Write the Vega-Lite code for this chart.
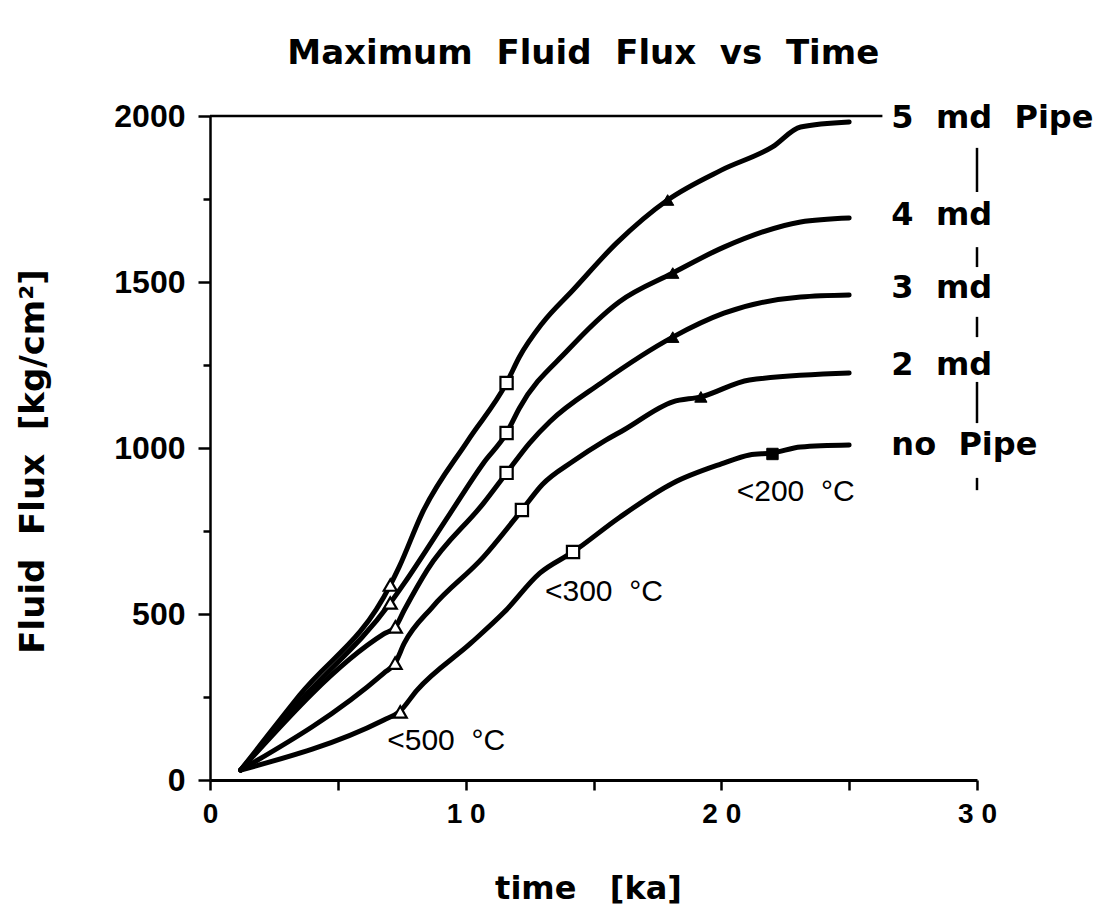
{
  "$schema": "https://vega.github.io/schema/vega-lite/v6.json",
  "width": 767,
  "height": 664,
  "autosize": {"type": "none"},
  "padding": {"left": 210, "top": 116, "right": 138, "bottom": 142},
  "background": "white",
  "config": {"view": {"stroke": null}},
  "datasets": {
    "curves": [
      {"series": "no Pipe", "t": 1.2, "flux": 30},
      {"series": "no Pipe", "t": 6.8, "flux": 181},
      {"series": "no Pipe", "t": 7.4, "flux": 205},
      {"series": "no Pipe", "t": 8.1, "flux": 271},
      {"series": "no Pipe", "t": 10.2, "flux": 412},
      {"series": "no Pipe", "t": 11.5, "flux": 505},
      {"series": "no Pipe", "t": 12.9, "flux": 623},
      {"series": "no Pipe", "t": 14.2, "flux": 687},
      {"series": "no Pipe", "t": 16.0, "flux": 790},
      {"series": "no Pipe", "t": 18.1, "flux": 894},
      {"series": "no Pipe", "t": 20.0, "flux": 952},
      {"series": "no Pipe", "t": 21.1, "flux": 979},
      {"series": "no Pipe", "t": 22.0, "flux": 985},
      {"series": "no Pipe", "t": 23.1, "flux": 1003},
      {"series": "no Pipe", "t": 25.0, "flux": 1009},
      {"series": "2 md", "t": 1.2, "flux": 30},
      {"series": "2 md", "t": 6.8, "flux": 322},
      {"series": "2 md", "t": 7.24, "flux": 352},
      {"series": "2 md", "t": 7.6, "flux": 412},
      {"series": "2 md", "t": 8.7, "flux": 521},
      {"series": "2 md", "t": 10.7, "flux": 672},
      {"series": "2 md", "t": 12.2, "flux": 813},
      {"series": "2 md", "t": 13.0, "flux": 890},
      {"series": "2 md", "t": 14.2, "flux": 960},
      {"series": "2 md", "t": 15.4, "flux": 1020},
      {"series": "2 md", "t": 16.2, "flux": 1055},
      {"series": "2 md", "t": 18.1, "flux": 1139},
      {"series": "2 md", "t": 19.2, "flux": 1154},
      {"series": "2 md", "t": 21.1, "flux": 1205},
      {"series": "2 md", "t": 25.0, "flux": 1226},
      {"series": "3 md", "t": 1.2, "flux": 30},
      {"series": "3 md", "t": 6.8, "flux": 440},
      {"series": "3 md", "t": 7.25, "flux": 461},
      {"series": "3 md", "t": 7.6, "flux": 512},
      {"series": "3 md", "t": 8.5, "flux": 633},
      {"series": "3 md", "t": 10.7, "flux": 834},
      {"series": "3 md", "t": 11.6, "flux": 925},
      {"series": "3 md", "t": 12.5, "flux": 1015},
      {"series": "3 md", "t": 13.3, "flux": 1080},
      {"series": "3 md", "t": 15.3, "flux": 1196},
      {"series": "3 md", "t": 18.1, "flux": 1334},
      {"series": "3 md", "t": 20.1, "flux": 1406},
      {"series": "3 md", "t": 23.1, "flux": 1455},
      {"series": "3 md", "t": 25.0, "flux": 1461},
      {"series": "4 md", "t": 1.2, "flux": 30},
      {"series": "4 md", "t": 3.5, "flux": 235},
      {"series": "4 md", "t": 7.05, "flux": 533},
      {"series": "4 md", "t": 7.6, "flux": 593},
      {"series": "4 md", "t": 9.4, "flux": 804},
      {"series": "4 md", "t": 10.7, "flux": 955},
      {"series": "4 md", "t": 11.6, "flux": 1045},
      {"series": "4 md", "t": 12.1, "flux": 1120},
      {"series": "4 md", "t": 14.0, "flux": 1295},
      {"series": "4 md", "t": 16.0, "flux": 1440},
      {"series": "4 md", "t": 18.1, "flux": 1527},
      {"series": "4 md", "t": 20.1, "flux": 1605},
      {"series": "4 md", "t": 23.1, "flux": 1681},
      {"series": "4 md", "t": 25.0, "flux": 1693},
      {"series": "5 md", "t": 1.2, "flux": 30},
      {"series": "5 md", "t": 3.5, "flux": 255},
      {"series": "5 md", "t": 7.05, "flux": 587},
      {"series": "5 md", "t": 7.4, "flux": 642},
      {"series": "5 md", "t": 8.3, "flux": 804},
      {"series": "5 md", "t": 10.1, "flux": 1024},
      {"series": "5 md", "t": 11.6, "flux": 1196},
      {"series": "5 md", "t": 12.1, "flux": 1274},
      {"series": "5 md", "t": 13.0, "flux": 1376},
      {"series": "5 md", "t": 14.2, "flux": 1476},
      {"series": "5 md", "t": 15.9, "flux": 1617},
      {"series": "5 md", "t": 17.9, "flux": 1747},
      {"series": "5 md", "t": 20.0, "flux": 1837},
      {"series": "5 md", "t": 22.0, "flux": 1907},
      {"series": "5 md", "t": 23.1, "flux": 1967},
      {"series": "5 md", "t": 25.0, "flux": 1982}
    ],
    "markers": [
      {"kind": "open-tri", "t": 7.05, "flux": 587},
      {"kind": "open-tri", "t": 7.05, "flux": 533},
      {"kind": "open-tri", "t": 7.25, "flux": 461},
      {"kind": "open-tri", "t": 7.24, "flux": 352},
      {"kind": "open-tri", "t": 7.44, "flux": 205},
      {"kind": "open-sq", "t": 11.6, "flux": 1196},
      {"kind": "open-sq", "t": 11.6, "flux": 1045},
      {"kind": "open-sq", "t": 11.6, "flux": 925},
      {"kind": "open-sq", "t": 12.2, "flux": 813},
      {"kind": "open-sq", "t": 14.2, "flux": 687},
      {"kind": "filled-tri", "t": 17.9, "flux": 1747},
      {"kind": "filled-tri", "t": 18.1, "flux": 1527},
      {"kind": "filled-tri", "t": 18.1, "flux": 1334},
      {"kind": "filled-tri", "t": 19.2, "flux": 1154},
      {"kind": "filled-sq", "t": 22.0, "flux": 982}
    ],
    "temps": [
      {"label": "<500\u00a0 °C", "t": 6.93, "flux": 117},
      {"label": "<300\u00a0 °C", "t": 13.1, "flux": 566},
      {"label": "<200\u00a0 °C", "t": 20.6, "flux": 867}
    ],
    "names": [
      {"label": "5\u00a0 md\u00a0 Pipe", "t": 26.65, "flux": 1994},
      {"label": "4\u00a0 md", "t": 26.65, "flux": 1702},
      {"label": "3\u00a0 md", "t": 26.65, "flux": 1482},
      {"label": "2\u00a0 md", "t": 26.65, "flux": 1250},
      {"label": "no\u00a0 Pipe", "t": 26.65, "flux": 1009}
    ],
    "bars": [
      {"t": 30, "flux": 1904, "flux2": 1771},
      {"t": 30, "flux": 1605, "flux2": 1545},
      {"t": 30, "flux": 1395, "flux2": 1334},
      {"t": 30, "flux": 1199, "flux2": 1075},
      {"t": 30, "flux": 910, "flux2": 873}
    ],
    "frame": [{"t": 0, "t1": 26.3, "flux": 2000}],
    "heading": [{"label": "Maximum\u00a0 Fluid\u00a0 Flux\u00a0 vs\u00a0 Time", "t": 14.6, "flux": 2000}]
  },
  "encoding": {
    "x": {
      "field": "t", "type": "quantitative",
      "scale": {"domain": [0, 30], "nice": false, "zero": false},
      "axis": {
        "values": [0, 5, 10, 15, 20, 25, 30],
        "labelExpr": "datum.value == 0 ? '0' : datum.value == 10 ? '1 0' : datum.value == 20 ? '2 0' : datum.value == 30 ? '3 0' : ''",
        "grid": false, "domainColor": "black", "domainWidth": 3, "tickColor": "black", "tickWidth": 2.5, "tickSize": 10,
        "labelFont": "Liberation Sans", "labelFontWeight": "bold", "labelFontSize": 28, "labelColor": "black", "labelPadding": 10,
        "labelOverlap": false, "labelFlush": false,
        "title": "time\u00a0\u00a0 [ka]", "titleFont": "DejaVu Sans", "titleFontWeight": "bold", "titleFontSize": 32, "titleColor": "black",
        "titleX": 378, "titleY": 118, "titleBaseline": "alphabetic", "titleAlign": "center"
      }
    },
    "y": {
      "field": "flux", "type": "quantitative",
      "scale": {"domain": [0, 2000], "nice": false},
      "axis": {
        "values": [0, 250, 500, 750, 1000, 1250, 1500, 1750, 2000],
        "labelExpr": "datum.value % 500 == 0 ? format(datum.value, 'd') : ''",
        "grid": false, "domainColor": "black", "domainWidth": 2.5, "tickColor": "black", "tickWidth": 2.5,
        "tickSize": {"condition": {"test": "datum.value % 500 === 0", "value": 12}, "value": 7},
        "labelFont": "Liberation Sans", "labelFontWeight": "bold", "labelFontSize": 32, "labelColor": "black", "labelPadding": 13,
        "labelOverlap": false, "labelFlush": false,
        "title": "Fluid\u00a0 Flux\u00a0 [kg/cm²]", "titleFont": "DejaVu Sans", "titleFontWeight": "bold", "titleFontSize": 34, "titleColor": "black",
        "titleX": -167, "titleY": 345, "titleAngle": -90, "titleBaseline": "alphabetic", "titleAlign": "center"
      }
    }
  },
  "layer": [
    {
      "data": {"name": "curves"},
      "mark": {"type": "line", "interpolate": "monotone", "color": "black", "strokeWidth": 5, "strokeCap": "round", "strokeJoin": "round"},
      "encoding": {"detail": {"field": "series"}}
    },
    {
      "data": {"name": "frame"},
      "mark": {"type": "rule", "color": "black", "strokeWidth": 2.5},
      "encoding": {"x2": {"field": "t1"}}
    },
    {
      "data": {"name": "bars"},
      "mark": {"type": "rule", "color": "black", "strokeWidth": 2.5},
      "encoding": {"y2": {"field": "flux2"}}
    },
    {
      "data": {"name": "markers"},
      "transform": [{"filter": "datum.kind == 'open-tri'"}],
      "mark": {"type": "point", "shape": "triangle-up", "filled": true, "fill": "white", "stroke": "black", "strokeWidth": 2.2, "size": 170, "opacity": 1},
      "encoding": {}
    },
    {
      "data": {"name": "markers"},
      "transform": [{"filter": "datum.kind == 'open-sq'"}],
      "mark": {"type": "point", "shape": "square", "filled": true, "fill": "white", "stroke": "black", "strokeWidth": 2.2, "size": 150, "opacity": 1},
      "encoding": {}
    },
    {
      "data": {"name": "markers"},
      "transform": [{"filter": "datum.kind == 'filled-tri'"}],
      "mark": {"type": "point", "shape": "triangle-up", "filled": true, "fill": "black", "stroke": "black", "strokeWidth": 1, "size": 150, "opacity": 1},
      "encoding": {}
    },
    {
      "data": {"name": "markers"},
      "transform": [{"filter": "datum.kind == 'filled-sq'"}],
      "mark": {"type": "point", "shape": "square", "filled": true, "fill": "black", "stroke": "black", "strokeWidth": 1, "size": 130, "opacity": 1},
      "encoding": {}
    },
    {
      "data": {"name": "temps"},
      "mark": {"type": "text", "align": "left", "baseline": "middle", "font": "Liberation Sans", "fontSize": 30, "color": "black"},
      "encoding": {"text": {"field": "label"}}
    },
    {
      "data": {"name": "names"},
      "mark": {"type": "text", "align": "left", "baseline": "middle", "font": "DejaVu Sans", "fontWeight": "bold", "fontSize": 32, "color": "black"},
      "encoding": {"text": {"field": "label"}}
    },
    {
      "data": {"name": "heading"},
      "mark": {"type": "text", "align": "center", "baseline": "alphabetic", "dy": -52, "font": "DejaVu Sans", "fontWeight": "bold", "fontSize": 34, "color": "black"},
      "encoding": {"text": {"field": "label"}}
    }
  ]
}
